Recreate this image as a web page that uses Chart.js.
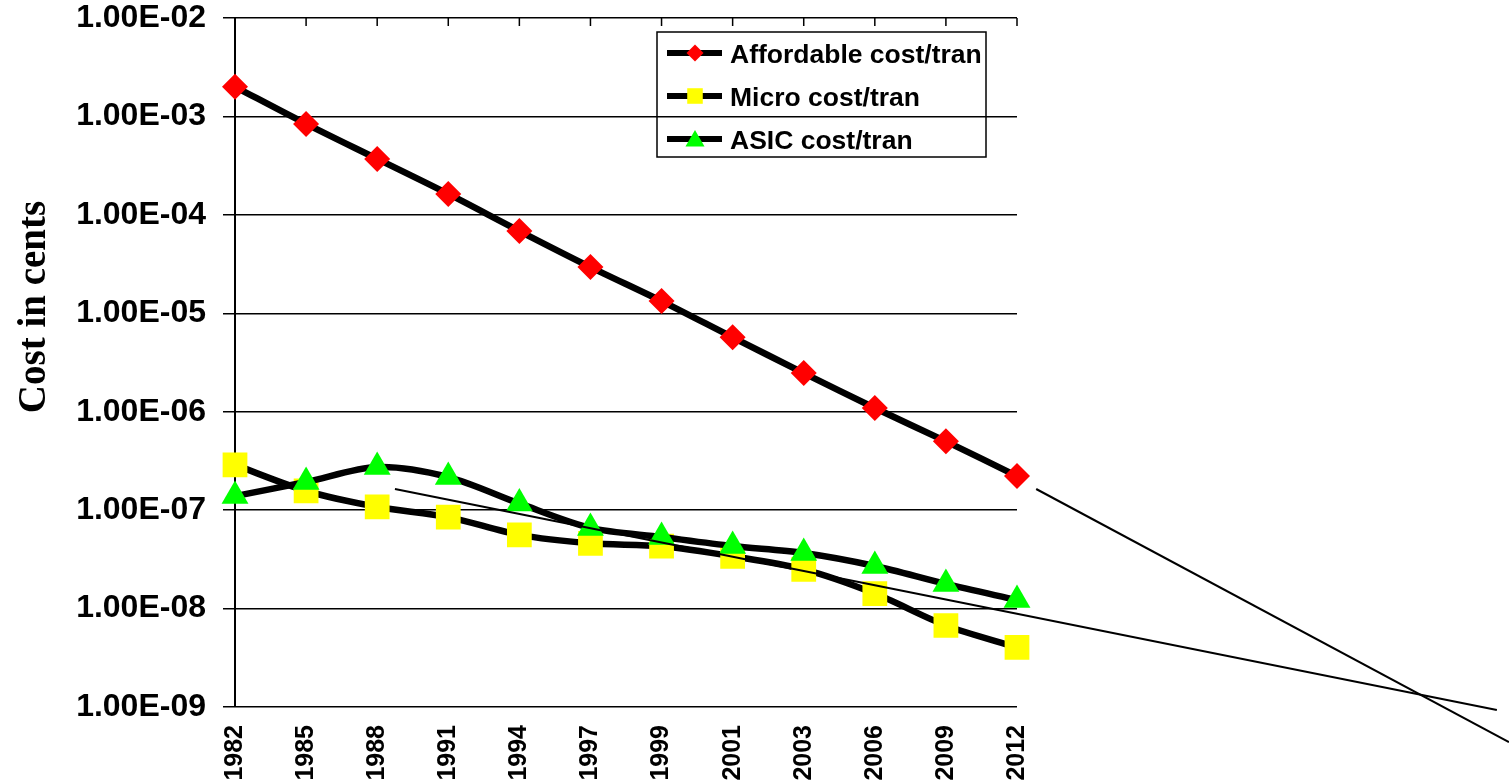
<!DOCTYPE html>
<html>
<head>
<meta charset="utf-8">
<script src="https://cdn.jsdelivr.net/npm/chart.js@4.4.1/dist/chart.umd.min.js"></script>
<style>
  html, body { margin: 0; padding: 0; background: #fff; }
  #wrap { width: 1509px; height: 784px; }
</style>
</head>
<body>
<div id="wrap"><canvas id="chart" width="1509" height="784"></canvas></div>
<script>
// ---------- data ----------
const years = ["1982", "1985", "1988", "1991", "1994", "1997", "1999", "2001", "2003", "2006", "2009", "2012"];

const affordableCost = [2.0e-3, 8.4e-4, 3.7e-4, 1.63e-4, 6.85e-5, 2.95e-5, 1.33e-5, 5.7e-6, 2.47e-6, 1.09e-6, 5.0e-7, 2.22e-7];
const microCost = [2.88e-7, 1.57e-7, 1.08e-7, 8.5e-8, 5.6e-8, 4.6e-8, 4.3e-8, 3.4e-8, 2.5e-8, 1.42e-8, 6.73e-9, 4.03e-9];
const asicCost = [1.39e-7, 1.93e-7, 2.74e-7, 2.17e-7, 1.17e-7, 6.6e-8, 5.33e-8, 4.32e-8, 3.67e-8, 2.71e-8, 1.78e-8, 1.22e-8];

// thin extrapolation lines, x given as category index (0 = 1982)
const trendAffordableX = [11.27, 17.92];
const trendAffordableY = [1.64e-7, 4.4e-10];
const trendChipX = [2.25, 17.75];
const trendChipY = [1.64e-7, 9.3e-10];

const yTickValues = [1e-9, 1e-8, 1e-7, 1e-6, 1e-5, 1e-4, 1e-3, 1e-2];
const yTickLabels = ["1.00E-09", "1.00E-08", "1.00E-07", "1.00E-06", "1.00E-05", "1.00E-04", "1.00E-03", "1.00E-02"];

const seriesNames = ["Affordable cost/tran", "Micro cost/tran", "ASIC cost/tran"];
const yTitle = "Cost in cents";

const SANS = "'Liberation Sans', Arial, sans-serif";
const SERIF = "'Liberation Serif', 'Times New Roman', serif";

function toPoints(xs, ys) {
  return xs.map((x, i) => ({ x: x, y: ys[i] }));
}

// tick marks on the top edge pointing into the plot
const topTicksPlugin = {
  id: "topTicks",
  beforeDatasetsDraw(chart) {
    const ctx = chart.ctx;
    const xs = chart.scales.x;
    const top = chart.chartArea.top;
    ctx.save();
    ctx.strokeStyle = "#000";
    ctx.lineWidth = 1.5;
    ctx.beginPath();
    xs.ticks.forEach((t, i) => {
      const px = xs.getPixelForTick(i);
      ctx.moveTo(px, top);
      ctx.lineTo(px, top + 8);
    });
    ctx.stroke();
    ctx.restore();
  },
};

// y title and boxed legend drawn by hand
const decorPlugin = {
  id: "decor",
  afterDraw(chart) {
    const ctx = chart.ctx;
    ctx.save();

    // axis title
    ctx.translate(45, 307);
    ctx.rotate(-Math.PI / 2);
    ctx.fillStyle = "#000";
    ctx.font = "bold 39px " + SERIF;
    ctx.textAlign = "center";
    ctx.textBaseline = "alphabetic";
    ctx.fillText(yTitle, 0, 0);
    ctx.setTransform(1, 0, 0, 1, 0, 0);

    // legend
    const box = { x: 657, y: 32, w: 329, h: 125 };
    ctx.strokeStyle = "#000";
    ctx.lineWidth = 1.5;
    ctx.strokeRect(box.x, box.y, box.w, box.h);

    const rowY = [53, 96, 139];
    const ds = chart.data.datasets;
    const legendMarkers = [
      { style: "rectRot", radius: 8.5 },
      { style: "rect", radius: 11 },
      { style: "triangle", radius: 11 },
    ];
    seriesNames.forEach((name, i) => {
      const y = rowY[i];
      ctx.strokeStyle = "#000";
      ctx.lineWidth = 6;
      ctx.beginPath();
      ctx.moveTo(667, y);
      ctx.lineTo(722, y);
      ctx.stroke();

      ctx.fillStyle = ds[i].pointBackgroundColor;
      Chart.helpers.drawPoint(ctx, {
        pointStyle: legendMarkers[i].style,
        radius: legendMarkers[i].radius,
        rotation: 0,
        borderWidth: 0,
      }, 695, legendMarkers[i].style === "triangle" ? y + 2 : y);

      ctx.fillStyle = "#000";
      ctx.font = "bold 26.5px " + SANS;
      ctx.textAlign = "left";
      ctx.textBaseline = "middle";
      ctx.fillText(name, 730, y + 3);
    });
    ctx.restore();
  },
};

const canvas = document.getElementById("chart");
new Chart(canvas, {
  type: "line",
  data: {
    labels: years,
    datasets: [
      {
        label: seriesNames[0],
        data: affordableCost,
        borderColor: "#000",
        borderWidth: 6.5,
        tension: 0.3,
        pointStyle: "rectRot",
        pointRadius: 13,
        pointBackgroundColor: "#ff0000",
        pointBorderColor: "rgba(0,0,0,0)",
        pointBorderWidth: 0,
        order: 3,
      },
      {
        label: seriesNames[1],
        data: microCost,
        borderColor: "#000",
        borderWidth: 6.5,
        tension: 0.3,
        pointStyle: "rect",
        pointRadius: 17.5,
        pointBackgroundColor: "#ffff00",
        pointBorderColor: "rgba(0,0,0,0)",
        pointBorderWidth: 0,
        order: 2,
      },
      {
        label: seriesNames[2],
        data: asicCost,
        borderColor: "#000",
        borderWidth: 6.5,
        tension: 0.3,
        pointStyle: "triangle",
        pointRadius: 15.5,
        pointBackgroundColor: "#00ff00",
        pointBorderColor: "rgba(0,0,0,0)",
        pointBorderWidth: 0,
        order: 1,
      },
      {
        label: "trend affordable",
        xAxisID: "xl",
        data: toPoints(trendAffordableX, trendAffordableY),
        borderColor: "#000",
        borderWidth: 2,
        pointRadius: 0,
        tension: 0,
        clip: false,
        order: 0,
      },
      {
        label: "trend chips",
        xAxisID: "xl",
        data: toPoints(trendChipX, trendChipY),
        borderColor: "#000",
        borderWidth: 2,
        pointRadius: 0,
        tension: 0,
        clip: false,
        order: 0,
      },
    ],
  },
  options: {
    responsive: false,
    animation: false,
    events: [],
    layout: { padding: { left: 0, top: 18, right: 492, bottom: 0 } },
    plugins: {
      legend: { display: false },
      tooltip: { enabled: false },
    },
    scales: {
      x: {
        type: "category",
        offset: false,
        grid: { display: false },
        border: { display: false },
        ticks: {
          autoSkip: false,
          minRotation: 90,
          maxRotation: 90,
          padding: 10,
          color: "#000",
          font: { family: SANS, size: 25, weight: "bold" },
        },
        afterFit: (s) => { s.height = 77; },
      },
      xl: {
        type: "linear",
        display: false,
        min: 0,
        max: years.length - 1,
      },
      y: {
        type: "logarithmic",
        min: yTickValues[0],
        max: yTickValues[yTickValues.length - 1],
        afterBuildTicks: (s) => { s.ticks = yTickValues.map((v) => ({ value: v })); },
        ticks: {
          padding: 17,
          color: "#000",
          font: { family: SANS, size: 32, weight: "bold" },
          callback: (v, i) => yTickLabels[i],
        },
        grid: { color: "#000", lineWidth: 1.5, tickLength: 12 },
        border: { color: "#000", width: 2 },
        afterFit: (s) => {
          s.width = 235;
          // labels may overhang the plot; don't let them push it down
          s.paddingTop = 0;
          s.paddingBottom = 0;
        },
      },
    },
  },
  plugins: [topTicksPlugin, decorPlugin],
});
</script>
</body>
</html>
